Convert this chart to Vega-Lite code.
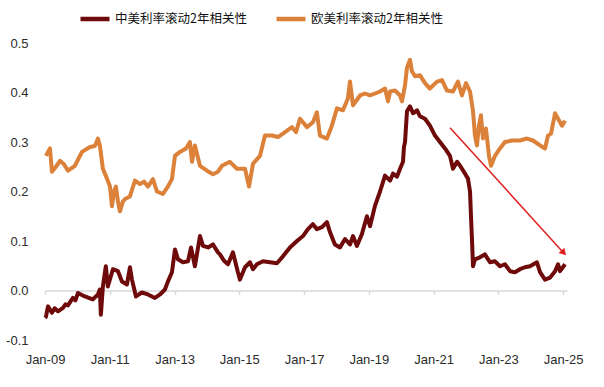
{
  "$schema": "https://vega.github.io/schema/vega-lite/v6.json",
  "autosize": {"type": "none"},
  "padding": {"left": 45, "top": 43, "right": 37, "bottom": 47},
  "width": 522,
  "height": 297,
  "background": "white",
  "config": {
    "view": {"stroke": null},
    "font": "Liberation Sans",
    "axis": {"labelFont": "Liberation Sans", "labelFontSize": 13, "labelColor": "#2b2b2b", "grid": false, "title": null}
  },
  "datasets": {
    "series": [
      {"s": "中美利率滚动2年相关性", "d": "2009-01-01", "v": -0.055},
      {"s": "中美利率滚动2年相关性", "d": "2009-01-12", "v": -0.053},
      {"s": "中美利率滚动2年相关性", "d": "2009-02-04", "v": -0.032},
      {"s": "中美利率滚动2年相关性", "d": "2009-03-20", "v": -0.045},
      {"s": "中美利率滚动2年相关性", "d": "2009-04-20", "v": -0.036},
      {"s": "中美利率滚动2年相关性", "d": "2009-05-27", "v": -0.042},
      {"s": "中美利率滚动2年相关性", "d": "2009-07-23", "v": -0.035},
      {"s": "中美利率滚动2年相关性", "d": "2009-08-20", "v": -0.028},
      {"s": "中美利率滚动2年相关性", "d": "2009-09-17", "v": -0.03},
      {"s": "中美利率滚动2年相关性", "d": "2009-11-12", "v": -0.015},
      {"s": "中美利率滚动2年相关性", "d": "2009-12-10", "v": -0.02},
      {"s": "中美利率滚动2年相关性", "d": "2010-01-08", "v": -0.005},
      {"s": "中美利率滚动2年相关性", "d": "2010-03-27", "v": -0.012},
      {"s": "中美利率滚动2年相关性", "d": "2010-06-24", "v": -0.018},
      {"s": "中美利率滚动2年相关性", "d": "2010-08-21", "v": -0.008},
      {"s": "中美利率滚动2年相关性", "d": "2010-09-12", "v": 0.002},
      {"s": "中美利率滚动2年相关性", "d": "2010-09-23", "v": -0.049},
      {"s": "中美利率滚动2年相关性", "d": "2010-10-16", "v": 0.008},
      {"s": "中美利率滚动2年相关性", "d": "2010-11-18", "v": 0.049},
      {"s": "中美利率滚动2年相关性", "d": "2010-12-11", "v": 0.008},
      {"s": "中美利率滚动2年相关性", "d": "2011-02-06", "v": 0.043},
      {"s": "中美利率滚动2年相关性", "d": "2011-04-04", "v": 0.039},
      {"s": "中美利率滚动2年相关性", "d": "2011-05-19", "v": 0.018},
      {"s": "中美利率滚动2年相关性", "d": "2011-07-14", "v": 0.012},
      {"s": "中美利率滚动2年相关性", "d": "2011-08-17", "v": 0.047},
      {"s": "中美利率滚动2年相关性", "d": "2011-09-09", "v": 0.022},
      {"s": "中美利率滚动2年相关性", "d": "2011-10-24", "v": -0.012},
      {"s": "中美利率滚动2年相关性", "d": "2011-12-30", "v": -0.004},
      {"s": "中美利率滚动2年相关性", "d": "2012-03-07", "v": -0.008},
      {"s": "中美利率滚动2年相关性", "d": "2012-05-25", "v": -0.015},
      {"s": "中美利率滚动2年相关性", "d": "2012-07-21", "v": -0.008},
      {"s": "中美利率滚动2年相关性", "d": "2012-09-15", "v": 0.002},
      {"s": "中美利率滚动2年相关性", "d": "2012-10-18", "v": 0.018},
      {"s": "中美利率滚动2年相关性", "d": "2012-12-03", "v": 0.037},
      {"s": "中美利率滚动2年相关性", "d": "2013-01-06", "v": 0.083},
      {"s": "中美利率滚动2年相关性", "d": "2013-02-09", "v": 0.063},
      {"s": "中美利率滚动2年相关性", "d": "2013-04-06", "v": 0.057},
      {"s": "中美利率滚动2年相关性", "d": "2013-06-02", "v": 0.059},
      {"s": "中美利率滚动2年相关性", "d": "2013-07-06", "v": 0.087},
      {"s": "中美利率滚动2年相关性", "d": "2013-08-19", "v": 0.049},
      {"s": "中美利率滚动2年相关性", "d": "2013-10-15", "v": 0.11},
      {"s": "中美利率滚动2年相关性", "d": "2013-11-18", "v": 0.09},
      {"s": "中美利率滚动2年相关性", "d": "2014-01-14", "v": 0.087},
      {"s": "中美利率滚动2年相关性", "d": "2014-03-11", "v": 0.093},
      {"s": "中美利率滚动2年相关性", "d": "2014-05-06", "v": 0.077},
      {"s": "中美利率滚动2年相关性", "d": "2014-05-29", "v": 0.073},
      {"s": "中美利率滚动2年相关性", "d": "2014-07-13", "v": 0.06},
      {"s": "中美利率滚动2年相关性", "d": "2014-08-27", "v": 0.053},
      {"s": "中美利率滚动2年相关性", "d": "2014-10-22", "v": 0.077},
      {"s": "中美利率滚动2年相关性", "d": "2014-12-17", "v": 0.037},
      {"s": "中美利率滚动2年相关性", "d": "2015-01-09", "v": 0.022},
      {"s": "中美利率滚动2年相关性", "d": "2015-03-07", "v": 0.047},
      {"s": "中美利率滚动2年相关性", "d": "2015-05-02", "v": 0.057},
      {"s": "中美利率滚动2年相关性", "d": "2015-06-05", "v": 0.043},
      {"s": "中美利率滚动2年相关性", "d": "2015-07-19", "v": 0.053},
      {"s": "中美利率滚动2年相关性", "d": "2015-09-25", "v": 0.059},
      {"s": "中美利率滚动2年相关性", "d": "2015-12-13", "v": 0.057},
      {"s": "中美利率滚动2年相关性", "d": "2016-03-01", "v": 0.055},
      {"s": "中美利率滚动2年相关性", "d": "2016-05-08", "v": 0.069},
      {"s": "中美利率滚动2年相关性", "d": "2016-07-26", "v": 0.087},
      {"s": "中美利率滚动2年相关性", "d": "2016-10-13", "v": 0.1},
      {"s": "中美利率滚动2年相关性", "d": "2016-12-20", "v": 0.11},
      {"s": "中美利率滚动2年相关性", "d": "2017-02-14", "v": 0.124},
      {"s": "中美利率滚动2年相关性", "d": "2017-04-11", "v": 0.134},
      {"s": "中美利率滚动2年相关性", "d": "2017-05-26", "v": 0.124},
      {"s": "中美利率滚动2年相关性", "d": "2017-07-22", "v": 0.128},
      {"s": "中美利率滚动2年相关性", "d": "2017-09-16", "v": 0.138},
      {"s": "中美利率滚动2年相关性", "d": "2017-10-20", "v": 0.118},
      {"s": "中美利率滚动2年相关性", "d": "2017-12-15", "v": 0.093},
      {"s": "中美利率滚动2年相关性", "d": "2018-02-10", "v": 0.087},
      {"s": "中美利率滚动2年相关性", "d": "2018-04-08", "v": 0.104},
      {"s": "中美利率滚动2年相关性", "d": "2018-06-03", "v": 0.093},
      {"s": "中美利率滚动2年相关性", "d": "2018-07-07", "v": 0.11},
      {"s": "中美利率滚动2年相关性", "d": "2018-08-20", "v": 0.09},
      {"s": "中美利率滚动2年相关性", "d": "2018-10-16", "v": 0.114},
      {"s": "中美利率滚动2年相关性", "d": "2018-12-11", "v": 0.15},
      {"s": "中美利率滚动2年相关性", "d": "2019-01-15", "v": 0.13},
      {"s": "中美利率滚动2年相关性", "d": "2019-03-12", "v": 0.171},
      {"s": "中美利率滚动2年相关性", "d": "2019-05-08", "v": 0.2},
      {"s": "中美利率滚动2年相关性", "d": "2019-07-03", "v": 0.232},
      {"s": "中美利率滚动2年相关性", "d": "2019-08-29", "v": 0.222},
      {"s": "中美利率滚动2年相关性", "d": "2019-10-01", "v": 0.236},
      {"s": "中美利率滚动2年相关性", "d": "2019-11-15", "v": 0.23},
      {"s": "中美利率滚动2年相关性", "d": "2019-12-20", "v": 0.246},
      {"s": "中美利率滚动2年相关性", "d": "2020-01-22", "v": 0.26},
      {"s": "中美利率滚动2年相关性", "d": "2020-02-02", "v": 0.29},
      {"s": "中美利率滚动2年相关性", "d": "2020-02-14", "v": 0.3},
      {"s": "中美利率滚动2年相关性", "d": "2020-03-07", "v": 0.362},
      {"s": "中美利率滚动2年相关性", "d": "2020-04-10", "v": 0.372},
      {"s": "中美利率滚动2年相关性", "d": "2020-05-14", "v": 0.358},
      {"s": "中美利率滚动2年相关性", "d": "2020-06-29", "v": 0.364},
      {"s": "中美利率滚动2年相关性", "d": "2020-07-31", "v": 0.352},
      {"s": "中美利率滚动2年相关性", "d": "2020-09-26", "v": 0.347},
      {"s": "中美利率滚动2年相关性", "d": "2020-11-21", "v": 0.333},
      {"s": "中美利率滚动2年相关性", "d": "2021-01-17", "v": 0.313},
      {"s": "中美利率滚动2年相关性", "d": "2021-03-14", "v": 0.3},
      {"s": "中美利率滚动2年相关性", "d": "2021-05-10", "v": 0.287},
      {"s": "中美利率滚动2年相关性", "d": "2021-07-05", "v": 0.272},
      {"s": "中美利率滚动2年相关性", "d": "2021-08-08", "v": 0.246},
      {"s": "中美利率滚动2年相关性", "d": "2021-09-23", "v": 0.26},
      {"s": "中美利率滚动2年相关性", "d": "2021-10-27", "v": 0.252},
      {"s": "中美利率滚动2年相关性", "d": "2021-12-22", "v": 0.236},
      {"s": "中美利率滚动2年相关性", "d": "2022-01-24", "v": 0.226},
      {"s": "中美利率滚动2年相关性", "d": "2022-02-16", "v": 0.2},
      {"s": "中美利率滚动2年相关性", "d": "2022-02-27", "v": 0.15},
      {"s": "中美利率滚动2年相关性", "d": "2022-03-10", "v": 0.104},
      {"s": "中美利率滚动2年相关性", "d": "2022-03-22", "v": 0.049},
      {"s": "中美利率滚动2年相关性", "d": "2022-04-13", "v": 0.063},
      {"s": "中美利率滚动2年相关性", "d": "2022-06-08", "v": 0.067},
      {"s": "中美利率滚动2年相关性", "d": "2022-08-03", "v": 0.073},
      {"s": "中美利率滚动2年相关性", "d": "2022-09-29", "v": 0.057},
      {"s": "中美利率滚动2年相关性", "d": "2022-11-25", "v": 0.059},
      {"s": "中美利率滚动2年相关性", "d": "2023-01-20", "v": 0.049},
      {"s": "中美利率滚动2年相关性", "d": "2023-03-17", "v": 0.053},
      {"s": "中美利率滚动2年相关性", "d": "2023-05-13", "v": 0.039},
      {"s": "中美利率滚动2年相关性", "d": "2023-07-08", "v": 0.037},
      {"s": "中美利率滚动2年相关性", "d": "2023-09-02", "v": 0.043},
      {"s": "中美利率滚动2年相关性", "d": "2023-10-28", "v": 0.047},
      {"s": "中美利率滚动2年相关性", "d": "2023-12-24", "v": 0.049},
      {"s": "中美利率滚动2年相关性", "d": "2024-03-12", "v": 0.057},
      {"s": "中美利率滚动2年相关性", "d": "2024-04-16", "v": 0.037},
      {"s": "中美利率滚动2年相关性", "d": "2024-06-11", "v": 0.022},
      {"s": "中美利率滚动2年相关性", "d": "2024-08-07", "v": 0.026},
      {"s": "中美利率滚动2年相关性", "d": "2024-10-02", "v": 0.039},
      {"s": "中美利率滚动2年相关性", "d": "2024-11-05", "v": 0.053},
      {"s": "中美利率滚动2年相关性", "d": "2024-11-27", "v": 0.039},
      {"s": "中美利率滚动2年相关性", "d": "2025-01-23", "v": 0.053},
      {"s": "欧美利率滚动2年相关性", "d": "2009-01-12", "v": 0.272},
      {"s": "欧美利率滚动2年相关性", "d": "2009-02-04", "v": 0.28},
      {"s": "欧美利率滚动2年相关性", "d": "2009-02-26", "v": 0.287},
      {"s": "欧美利率滚动2年相关性", "d": "2009-03-20", "v": 0.24},
      {"s": "欧美利率滚动2年相关性", "d": "2009-05-04", "v": 0.25},
      {"s": "欧美利率滚动2年相关性", "d": "2009-06-19", "v": 0.262},
      {"s": "欧美利率滚动2年相关性", "d": "2009-08-03", "v": 0.255},
      {"s": "欧美利率滚动2年相关性", "d": "2009-09-17", "v": 0.242},
      {"s": "欧美利率滚动2年相关性", "d": "2009-12-04", "v": 0.252},
      {"s": "欧美利率滚动2年相关性", "d": "2010-02-22", "v": 0.28},
      {"s": "欧美利率滚动2年相关性", "d": "2010-05-23", "v": 0.29},
      {"s": "欧美利率滚动2年相关性", "d": "2010-07-18", "v": 0.292},
      {"s": "欧美利率滚动2年相关性", "d": "2010-08-21", "v": 0.307},
      {"s": "欧美利率滚动2年相关性", "d": "2010-09-12", "v": 0.293},
      {"s": "欧美利率滚动2年相关性", "d": "2010-10-16", "v": 0.246},
      {"s": "欧美利率滚动2年相关性", "d": "2010-12-01", "v": 0.226},
      {"s": "欧美利率滚动2年相关性", "d": "2011-01-04", "v": 0.21},
      {"s": "欧美利率滚动2年相关性", "d": "2011-01-26", "v": 0.17},
      {"s": "欧美利率滚动2年相关性", "d": "2011-02-18", "v": 0.2},
      {"s": "欧美利率滚动2年相关性", "d": "2011-03-12", "v": 0.21},
      {"s": "欧美利率滚动2年相关性", "d": "2011-04-04", "v": 0.18},
      {"s": "欧美利率滚动2年相关性", "d": "2011-04-26", "v": 0.16},
      {"s": "欧美利率滚动2年相关性", "d": "2011-05-30", "v": 0.18},
      {"s": "欧美利率滚动2年相关性", "d": "2011-06-22", "v": 0.185},
      {"s": "欧美利率滚动2年相关性", "d": "2011-08-17", "v": 0.19},
      {"s": "欧美利率滚动2年相关性", "d": "2011-10-13", "v": 0.222},
      {"s": "欧美利率滚动2年相关性", "d": "2011-12-08", "v": 0.215},
      {"s": "欧美利率滚动2年相关性", "d": "2012-01-22", "v": 0.22},
      {"s": "欧美利率滚动2年相关性", "d": "2012-03-07", "v": 0.21},
      {"s": "欧美利率滚动2年相关性", "d": "2012-05-02", "v": 0.225},
      {"s": "欧美利率滚动2年相关性", "d": "2012-06-17", "v": 0.2},
      {"s": "欧美利率滚动2年相关性", "d": "2012-08-23", "v": 0.195},
      {"s": "欧美利率滚动2年相关性", "d": "2012-10-18", "v": 0.21},
      {"s": "欧美利率滚动2年相关性", "d": "2012-12-03", "v": 0.225},
      {"s": "欧美利率滚动2年相关性", "d": "2013-01-06", "v": 0.272},
      {"s": "欧美利率滚动2年相关性", "d": "2013-03-03", "v": 0.28},
      {"s": "欧美利率滚动2年相关性", "d": "2013-05-10", "v": 0.287},
      {"s": "欧美利率滚动2年相关性", "d": "2013-06-24", "v": 0.3},
      {"s": "欧美利率滚动2年相关性", "d": "2013-07-17", "v": 0.26},
      {"s": "欧美利率滚动2年相关性", "d": "2013-08-19", "v": 0.293},
      {"s": "欧美利率滚动2年相关性", "d": "2013-10-15", "v": 0.252},
      {"s": "欧美利率滚动2年相关性", "d": "2014-01-02", "v": 0.242},
      {"s": "欧美利率滚动2年相关性", "d": "2014-03-11", "v": 0.235},
      {"s": "欧美利率滚动2年相关性", "d": "2014-05-06", "v": 0.24},
      {"s": "欧美利率滚动2年相关性", "d": "2014-06-20", "v": 0.252},
      {"s": "欧美利率滚动2年相关性", "d": "2014-09-18", "v": 0.26},
      {"s": "欧美利率滚动2年相关性", "d": "2014-12-06", "v": 0.246},
      {"s": "欧美利率滚动2年相关性", "d": "2015-03-07", "v": 0.246},
      {"s": "欧美利率滚动2年相关性", "d": "2015-04-21", "v": 0.21},
      {"s": "欧美利率滚动2年相关性", "d": "2015-06-05", "v": 0.256},
      {"s": "欧美利率滚动2年相关性", "d": "2015-08-23", "v": 0.272},
      {"s": "欧美利率滚动2年相关性", "d": "2015-10-18", "v": 0.313},
      {"s": "欧美利率滚动2年相关性", "d": "2016-01-05", "v": 0.313},
      {"s": "欧美利率滚动2年相关性", "d": "2016-03-13", "v": 0.31},
      {"s": "欧美利率滚动2年相关性", "d": "2016-05-31", "v": 0.32},
      {"s": "欧美利率滚动2年相关性", "d": "2016-08-18", "v": 0.33},
      {"s": "欧美利率滚动2年相关性", "d": "2016-10-02", "v": 0.32},
      {"s": "欧美利率滚动2年相关性", "d": "2016-11-16", "v": 0.347},
      {"s": "欧美利率滚动2年相关性", "d": "2017-02-03", "v": 0.33},
      {"s": "欧美利率滚动2年相关性", "d": "2017-04-11", "v": 0.34},
      {"s": "欧美利率滚动2年相关性", "d": "2017-05-26", "v": 0.36},
      {"s": "欧美利率滚动2年相关性", "d": "2017-06-29", "v": 0.313},
      {"s": "欧美利率滚动2年相关性", "d": "2017-09-16", "v": 0.307},
      {"s": "欧美利率滚动2年相关性", "d": "2017-11-11", "v": 0.333},
      {"s": "欧美利率滚动2年相关性", "d": "2018-01-07", "v": 0.368},
      {"s": "欧美利率滚动2年相关性", "d": "2018-03-16", "v": 0.364},
      {"s": "欧美利率滚动2年相关性", "d": "2018-05-11", "v": 0.388},
      {"s": "欧美利率滚动2年相关性", "d": "2018-06-03", "v": 0.422},
      {"s": "欧美利率滚动2年相关性", "d": "2018-07-07", "v": 0.374},
      {"s": "欧美利率滚动2年相关性", "d": "2018-09-24", "v": 0.394},
      {"s": "欧美利率滚动2年相关性", "d": "2018-11-19", "v": 0.398},
      {"s": "欧美利率滚动2年相关性", "d": "2019-01-15", "v": 0.394},
      {"s": "欧美利率滚动2年相关性", "d": "2019-03-12", "v": 0.398},
      {"s": "欧美利率滚动2年相关性", "d": "2019-05-08", "v": 0.402},
      {"s": "欧美利率滚动2年相关性", "d": "2019-07-03", "v": 0.408},
      {"s": "欧美利率滚动2年相关性", "d": "2019-08-06", "v": 0.382},
      {"s": "欧美利率滚动2年相关性", "d": "2019-08-29", "v": 0.402},
      {"s": "欧美利率滚动2年相关性", "d": "2019-10-24", "v": 0.404},
      {"s": "欧美利率滚动2年相关性", "d": "2019-12-20", "v": 0.394},
      {"s": "欧美利率滚动2年相关性", "d": "2020-01-11", "v": 0.382},
      {"s": "欧美利率滚动2年相关性", "d": "2020-02-14", "v": 0.415},
      {"s": "欧美利率滚动2年相关性", "d": "2020-03-07", "v": 0.45},
      {"s": "欧美利率滚动2年相关性", "d": "2020-04-10", "v": 0.466},
      {"s": "欧美利率滚动2年相关性", "d": "2020-05-02", "v": 0.443},
      {"s": "欧美利率滚动2年相关性", "d": "2020-06-05", "v": 0.433},
      {"s": "欧美利率滚动2年相关性", "d": "2020-07-31", "v": 0.435},
      {"s": "欧美利率滚动2年相关性", "d": "2020-09-26", "v": 0.419},
      {"s": "欧美利率滚动2年相关性", "d": "2020-11-21", "v": 0.408},
      {"s": "欧美利率滚动2年相关性", "d": "2021-02-09", "v": 0.422},
      {"s": "欧美利率滚动2年相关性", "d": "2021-04-06", "v": 0.425},
      {"s": "欧美利率滚动2年相关性", "d": "2021-06-01", "v": 0.404},
      {"s": "欧美利率滚动2年相关性", "d": "2021-08-08", "v": 0.402},
      {"s": "欧美利率滚动2年相关性", "d": "2021-10-03", "v": 0.422},
      {"s": "欧美利率滚动2年相关性", "d": "2021-11-17", "v": 0.394},
      {"s": "欧美利率滚动2年相关性", "d": "2022-01-02", "v": 0.419},
      {"s": "欧美利率滚动2年相关性", "d": "2022-02-16", "v": 0.402},
      {"s": "欧美利率滚动2年相关性", "d": "2022-03-22", "v": 0.362},
      {"s": "欧美利率滚动2年相关性", "d": "2022-04-13", "v": 0.313},
      {"s": "欧美利率滚动2年相关性", "d": "2022-05-05", "v": 0.293},
      {"s": "欧美利率滚动2年相关性", "d": "2022-05-28", "v": 0.333},
      {"s": "欧美利率滚动2年相关性", "d": "2022-06-19", "v": 0.354},
      {"s": "欧美利率滚动2年相关性", "d": "2022-07-12", "v": 0.307},
      {"s": "欧美利率滚动2年相关性", "d": "2022-08-15", "v": 0.327},
      {"s": "欧美利率滚动2年相关性", "d": "2022-09-18", "v": 0.272},
      {"s": "欧美利率滚动2年相关性", "d": "2022-10-11", "v": 0.252},
      {"s": "欧美利率滚动2年相关性", "d": "2022-11-25", "v": 0.272},
      {"s": "欧美利率滚动2年相关性", "d": "2023-01-20", "v": 0.287},
      {"s": "欧美利率滚动2年相关性", "d": "2023-03-17", "v": 0.3},
      {"s": "欧美利率滚动2年相关性", "d": "2023-06-04", "v": 0.303},
      {"s": "欧美利率滚动2年相关性", "d": "2023-09-02", "v": 0.303},
      {"s": "欧美利率滚动2年相关性", "d": "2023-11-20", "v": 0.307},
      {"s": "欧美利率滚动2年相关性", "d": "2024-01-27", "v": 0.303},
      {"s": "欧美利率滚动2年相关性", "d": "2024-04-16", "v": 0.293},
      {"s": "欧美利率滚动2年相关性", "d": "2024-06-11", "v": 0.287},
      {"s": "欧美利率滚动2年相关性", "d": "2024-07-15", "v": 0.313},
      {"s": "欧美利率滚动2年相关性", "d": "2024-08-18", "v": 0.317},
      {"s": "欧美利率滚动2年相关性", "d": "2024-10-02", "v": 0.358},
      {"s": "欧美利率滚动2年相关性", "d": "2024-11-05", "v": 0.347},
      {"s": "欧美利率滚动2年相关性", "d": "2024-12-20", "v": 0.333},
      {"s": "欧美利率滚动2年相关性", "d": "2025-01-23", "v": 0.343}
    ],
    "arrow": [
      {"d": "2021-07-05", "v": 0.329, "d2": "2025-01-08", "v2": 0.076}
    ]
  },
  "layer": [
    {
      "data": {"name": "series"},
      "mark": {"type": "line", "strokeWidth": 4, "strokeJoin": "round"},
      "encoding": {
        "x": {
          "field": "d", "type": "temporal",
          "scale": {"type": "utc", "domain": [{"year": 2009, "month": 1, "date": 1, "utc": true}, {"year": 2025, "month": 2, "date": 14, "utc": true}]},
          "axis": {
            "values": [
              {"year": 2009, "month": 1, "date": 1, "utc": true},
              {"year": 2011, "month": 1, "date": 1, "utc": true},
              {"year": 2013, "month": 1, "date": 1, "utc": true},
              {"year": 2015, "month": 1, "date": 1, "utc": true},
              {"year": 2017, "month": 1, "date": 1, "utc": true},
              {"year": 2019, "month": 1, "date": 1, "utc": true},
              {"year": 2021, "month": 1, "date": 1, "utc": true},
              {"year": 2023, "month": 1, "date": 1, "utc": true},
              {"year": 2025, "month": 1, "date": 1, "utc": true}
            ],
            "format": "%b-%y",
            "offset": -49.5,
            "domainColor": "#d9d9d9",
            "domainWidth": 1.5,
            "tickColor": "#d9d9d9",
            "tickSize": 4,
            "tickWidth": 1.5,
            "labelPadding": 59,
            "labelFlush": false
          }
        },
        "y": {
          "field": "v", "type": "quantitative",
          "scale": {"domain": [-0.1, 0.5], "nice": false, "zero": false},
          "axis": {
            "values": [-0.1, 0, 0.1, 0.2, 0.3, 0.4, 0.5],
            "labelExpr": "replace(format(datum.value, '.1f'), '\u2212', '-')",
            "domain": false,
            "ticks": false,
            "tickSize": 0,
            "labelPadding": 17
          }
        },
        "color": {
          "field": "s", "type": "nominal",
          "scale": {"domain": ["中美利率滚动2年相关性", "欧美利率滚动2年相关性"], "range": ["#6e0a0a", "#dc8139"]},
          "legend": {
            "title": null,
            "orient": "none",
            "direction": "horizontal",
            "legendX": 33,
            "legendY": -41,
            "padding": 0,
            "symbolType": "stroke",
            "symbolStrokeWidth": 4.5,
            "symbolSize": 841,
            "labelFont": "Noto Sans CJK SC",
            "labelFontSize": 12.5,
            "labelColor": "#111111",
            "labelOffset": 3,
            "columnPadding": 20
          }
        }
      }
    },
    {
      "data": {"name": "arrow"},
      "mark": {"type": "rule", "color": "#e02020", "strokeWidth": 1.5},
      "encoding": {
        "x": {"field": "d", "type": "temporal"},
        "y": {"field": "v", "type": "quantitative"},
        "x2": {"field": "d2"},
        "y2": {"field": "v2"}
      }
    },
    {
      "data": {"name": "arrow"},
      "mark": {"type": "point", "shape": "triangle-up", "filled": true, "color": "#e02020", "size": 60, "angle": 138, "opacity": 1},
      "encoding": {
        "x": {"field": "d2", "type": "temporal"},
        "y": {"field": "v2", "type": "quantitative"}
      }
    }
  ]
}
